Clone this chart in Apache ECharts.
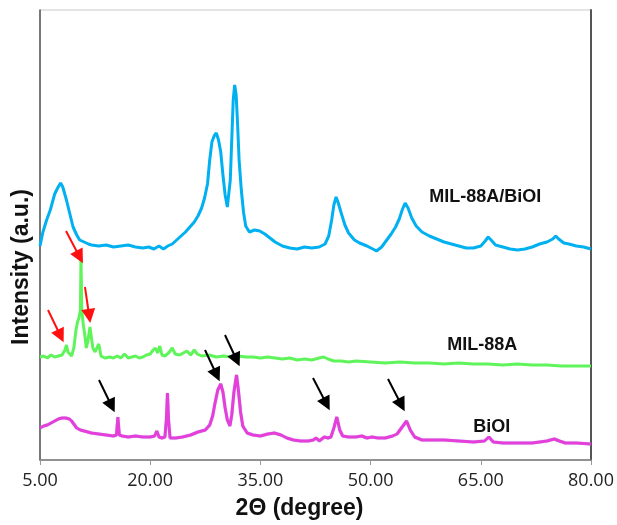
<!DOCTYPE html>
<html>
<head>
<meta charset="utf-8">
<script src="https://cdn.jsdelivr.net/npm/echarts@6/dist/echarts.min.js"></script>
<style>
  html, body { margin: 0; padding: 0; background: #fff; }
  #chart { width: 617px; height: 525px; }
</style>
</head>
<body>
<div id="chart"></div>
<script>
// XRD patterns (offset for display), 2θ in degrees, intensity in a.u.
const twoThetaComposite = [5.0,5.4,5.9,6.4,7.0,7.4,7.8,8.1,8.6,9.0,9.5,10.0,10.4,11.0,11.6,12.0,13.0,14.0,15.0,16.0,17.0,18.0,19.0,19.8,20.5,21.2,21.8,22.4,23.0,23.6,24.2,24.8,25.4,26.0,26.5,27.0,27.4,27.8,28.1,28.4,28.7,29.0,29.3,29.6,29.9,30.2,30.5,30.7,30.9,31.1,31.3,31.5,31.7,31.9,32.1,32.4,32.7,33.0,33.5,34.2,34.9,35.6,36.3,37.0,38.0,39.0,40.0,41.0,42.0,43.0,43.8,44.3,44.7,45.0,45.3,45.6,46.0,46.5,47.0,47.8,48.5,49.5,50.3,50.8,51.5,52.2,52.8,53.4,53.9,54.3,54.7,55.1,55.6,56.2,57.0,58.0,59.0,60.0,61.0,62.0,63.0,64.0,65.0,65.6,66.0,66.4,67.0,68.0,69.0,70.0,71.0,72.0,73.0,74.0,74.8,75.2,75.6,76.3,77.0,78.0,79.0,80.0];
const intensityComposite = [214,228,240,250,266,272,277,273,260,248,233,225,220,218,216,215,214,215,213,214,215,213,212,213,211,214,211,214,216,220,224,228,233,238,244,252,262,276,300,318,324,327,320,308,285,265,253,255,280,320,360,375,365,335,300,270,248,234,228,230,229,226,222,218,214,212,211,213,212,213,216,224,240,255,263,257,247,235,227,220,217,214,211,209,213,220,226,233,241,250,257,252,242,234,228,224,221,218,216,214,212,212,214,219,223,220,215,213,211,210,211,213,216,218,221,224,221,217,216,214,213,211];

const twoThetaMIL = [5.0,5.5,6.0,6.5,7.0,7.5,8.0,8.4,8.6,8.8,9.3,9.6,9.9,10.1,10.3,10.5,10.58,10.68,10.9,11.1,11.3,11.5,11.8,12.0,12.2,12.5,12.8,13.0,13.3,13.8,14.5,15.0,15.5,16.0,16.5,17.0,17.5,18.0,18.5,19.0,19.5,20.0,20.4,20.7,21.0,21.3,21.6,22.0,22.5,23.0,23.4,24.0,24.5,25.0,25.5,26.0,26.4,27.0,28.0,29.0,30.0,31.0,32.0,33.0,34.0,35.0,36.0,37.0,38.0,39.0,40.0,41.0,42.0,43.0,43.6,44.2,45.0,46.0,47.0,48.0,50.0,52.0,54.0,56.0,58.0,60.0,62.0,64.0,66.0,68.0,70.0,72.0,74.0,76.0,78.0,80.0];
const intensityMIL = [103,104,102,105,103,104,105,110,115,108,104,112,130,138,142,150,202,150,135,125,112,118,133,122,112,108,113,116,104,102,103,102,104,102,106,102,103,104,102,103,105,106,110,112,107,114,105,104,107,112,106,105,107,109,105,110,106,104,105,103,104,103,104,103,103,102,103,102,101,102,100,101,100,102,103,101,99,99,98,99,98,97,98,97,97,96,97,96,96,95,96,95,95,94,94,94];

const twoThetaBiOI = [5.0,5.5,6.0,6.5,7.0,7.5,8.0,8.5,9.0,9.3,9.7,10.0,10.5,11.0,11.5,12.0,13.0,14.0,15.0,15.4,15.6,15.8,16.2,17.0,18.0,19.0,20.0,20.6,20.9,21.2,21.6,22.0,22.2,22.35,22.5,22.7,23.5,24.4,25.5,26.5,27.5,28.1,28.5,28.8,29.2,29.6,29.9,30.2,30.5,30.85,31.1,31.4,31.75,32.0,32.3,32.6,33.2,34.0,35.0,36.0,36.9,37.8,38.6,39.5,40.5,41.5,42.2,42.6,43.0,43.7,44.2,44.6,45.0,45.4,45.8,46.2,47.0,48.0,48.8,49.5,50.2,51.0,52.0,53.0,53.6,54.2,54.9,55.4,56.0,57.0,58.0,60.0,62.0,64.0,65.5,66.1,66.7,68.0,70.0,72.0,73.0,74.0,75.0,75.7,76.5,78.0,80.0];
const intensityBiOI = [32,34,35,37,39,41,42,42,41,39,35,32,30,29,28,27,26,25,24,25,43,25,24,23,24,23,23,24,29,23,22,23,40,67,40,22,22,23,25,28,30,35,44,56,70,76,68,52,40,34,45,68,85,70,48,34,27,25,24,26,27,25,22,20,19,19,20,22,19,23,22,23,32,43,30,24,23,23,24,22,23,22,22,24,26,32,39,30,23,20,20,20,19,18,19,23,18,17,17,17,18,19,21,19,17,17,16];

// Curve names with the anchor point (2θ, a.u.) of each name
const curveNames = ['MIL-88A/BiOI', 'MIL-88A', 'BiOI'];
const nameAnchors = [[65.6, 263], [65.2, 115], [66.5, 33]];

// Peak markers: [2θ start, a.u. start, 2θ end, a.u. end]
const redArrows = [[6.09,150,7.8,124],[8.54,229,10.4,203],[11.12,173,11.7,144]];
const blackArrows = [[13.03,80,14.75,54],[27.46,110,29.05,85],[30.18,125,31.77,100],[42.16,82,44.0,56],[52.37,81,54.2,55]];

const xTicks = { min: 5, max: 80, step: 15 };

const colors = ['#00b0f0', '#5ff55a', '#e63ed8'];

function pairs(xs, ys) { return xs.map((x, i) => [x, ys[i]]); }

function arrowItems(list, color) {
  return list.map(a => [
    { coord: [a[0], a[1]], lineStyle: { color: color }, itemStyle: { color: color } },
    { coord: [a[2], a[3]] }
  ]);
}

function nameMark(i) {
  return {
    silent: true,
    symbol: 'circle',
    symbolSize: 0,
    animation: false,
    data: [{
      coord: nameAnchors[i],
      label: {
        show: true, position: 'inside', formatter: curveNames[i],
        color: '#111', fontFamily: 'Liberation Sans', fontWeight: 'bold', fontSize: 18
      }
    }]
  };
}

const chart = echarts.init(document.getElementById('chart'), null, { renderer: 'canvas' });

const option = {
  animation: false,
  backgroundColor: '#ffffff',
  grid: { left: 40, right: 26, top: 10, bottom: 65, show: true, borderColor: '#c8c8c8', borderWidth: 1 },
  xAxis: {
    type: 'value',
    min: xTicks.min, max: xTicks.max, interval: xTicks.step,
    name: '2Θ (degree)',
    nameLocation: 'middle',
    nameGap: 37,
    nameTextStyle: { fontFamily: 'Liberation Sans', fontWeight: 'bold', fontSize: 23, color: '#111', padding: [0, 32, 0, 0] },
    axisLine: { show: true, lineStyle: { color: '#777', width: 1.5 } },
    axisTick: { show: true, inside: false, length: 5, lineStyle: { color: '#999' } },
    axisLabel: { formatter: v => v.toFixed(2), fontFamily: 'Open Sans', fontSize: 18, color: '#222', margin: 12 },
    splitLine: { show: false }
  },
  yAxis: [{
    type: 'value', min: 0, max: 450,
    name: 'Intensity (a.u.)',
    nameLocation: 'middle',
    nameGap: 7,
    nameTextStyle: { fontFamily: 'Liberation Sans', fontWeight: 'bold', fontSize: 23, color: '#111', padding: [0, 64, 0, 0] },
    axisLine: { show: true, lineStyle: { color: '#555', width: 1.5 } },
    axisTick: { show: false }, axisLabel: { show: false }, splitLine: { show: false }
  }, {
    type: 'value', min: 0, max: 450, position: 'right',
    axisLine: { show: true, lineStyle: { color: '#555', width: 2 } },
    axisTick: { show: false }, axisLabel: { show: false }, splitLine: { show: false }
  }],
  series: [
    {
      name: curveNames[0], type: 'line', showSymbol: false, silent: true,
      data: pairs(twoThetaComposite, intensityComposite),
      lineStyle: { color: colors[0], width: 3 },
      markPoint: nameMark(0)
    },
    {
      name: curveNames[1], type: 'line', showSymbol: false, silent: true,
      data: pairs(twoThetaMIL, intensityMIL),
      lineStyle: { color: colors[1], width: 3 },
      markPoint: nameMark(1)
    },
    {
      name: curveNames[2], type: 'line', showSymbol: false, silent: true,
      data: pairs(twoThetaBiOI, intensityBiOI),
      lineStyle: { color: colors[2], width: 3, shadowColor: 'rgba(120,120,255,0.5)', shadowBlur: 1 },
      markPoint: nameMark(2),
      markLine: {
        silent: true,
        animation: false,
        symbol: ['none', 'triangle'],
        symbolSize: 14,
        label: { show: false },
        lineStyle: { type: 'solid', width: 2 },
        data: arrowItems(redArrows, '#ff1010').concat(arrowItems(blackArrows, '#000000'))
      }
    }
  ]
};

chart.setOption(option);
</script>
</body>
</html>
